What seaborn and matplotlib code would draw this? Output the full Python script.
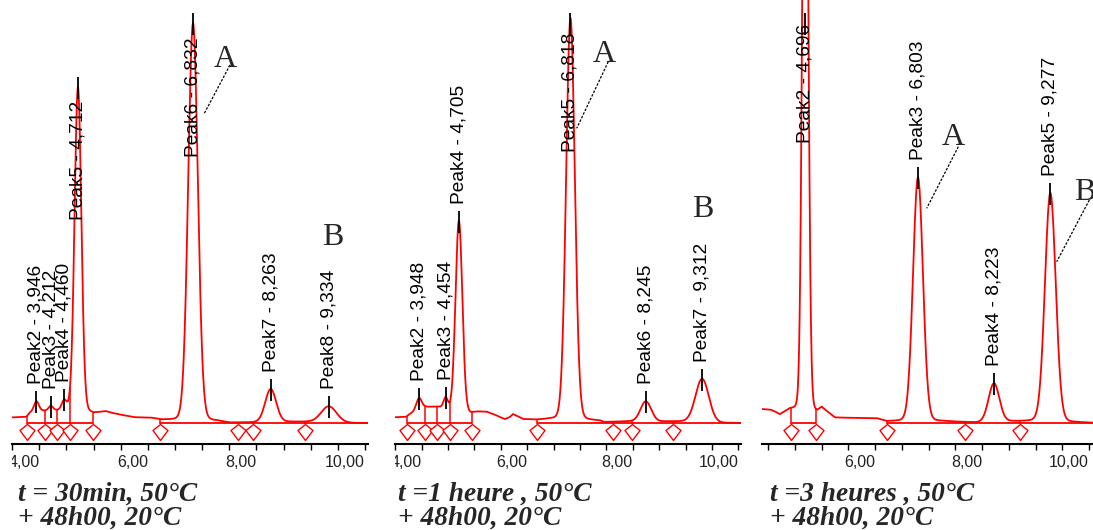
import numpy as np
import pandas as pd
import matplotlib
matplotlib.use("Agg")
import matplotlib.pyplot as plt
import seaborn as sns
from matplotlib.path import Path
from matplotlib.transforms import Bbox, TransformedBbox

sns.set_style("white")
plt.rcParams["font.family"] = ["Liberation Sans", "DejaVu Sans"]

RED = "#ff0000"

# ---------------- run 1 : 30 min at 50 °C, then 48 h at 20 °C
run1_names = ["Peak2", "Peak3", "Peak4", "Peak5", "Peak6", "Peak7", "Peak8"]
run1_rt = [3.946, 4.212, 4.460, 4.712, 6.832, 8.263, 9.334]
run1_height = [9.5, 4.5, 9.5, 324, 398, 33, 16]
run1_sigma = [0.045, 0.04, 0.045, 0.062, 0.088, 0.10, 0.14]
run1_drift_t = [3.50, 3.76, 3.82, 3.95, 4.60, 4.85, 5.00, 5.12, 5.22, 5.32, 5.50,
                5.75, 6.05, 6.25, 6.60, 7.30, 7.50, 8.60, 8.95, 9.80, 10.06]
run1_drift_s = [5.5, 6.0, 10.0, 12.0, 12.5, 11.0, 9.5, 10.5, 11.5, 10.0, 8.0,
                5.5, 5.0, 3.0, 2.0, 1.5, 0.0, 1.2, 1.2, 0.0, 0.0]
run1_marks = [3.768, 4.105, 4.320, 4.566, 4.995, 6.224, 7.667, 7.943, 8.895]
run1_base = [(3.768, 4.995), (6.224, 10.06)]

# ---------------- run 2 : 1 hour at 50 °C, then 48 h at 20 °C
run2_names = ["Peak2", "Peak3", "Peak4", "Peak5", "Peak6", "Peak7"]
run2_rt = [3.948, 4.454, 4.705, 6.818, 8.245, 9.312]
run2_height = [11, 11, 191, 402, 20, 43.5]
run2_sigma = [0.05, 0.04, 0.064, 0.082, 0.10, 0.125]
run2_drift_t = [3.49, 3.70, 3.78, 3.88, 4.00, 4.06, 4.31, 4.45, 4.60, 4.92, 5.04,
                5.23, 5.39, 5.48, 5.58, 5.67, 5.73, 5.80, 5.92, 6.18, 6.43, 7.06,
                7.38, 7.45, 7.90, 8.90, 9.65, 10.05]
run2_drift_s = [5.7, 6.0, 9.0, 12.0, 15.0, 16.0, 16.0, 14.0, 12.0, 9.5, 11.0,
                11.0, 8.0, 5.7, 3.7, 5.7, 8.7, 7.0, 3.7, 3.0, 3.5, 2.5,
                2.0, 0.5, 1.5, 1.5, 0.0, 0.0]
run2_marks = [3.716, 4.063, 4.284, 4.536, 4.947, 6.178, 7.629, 7.977, 8.765]
run2_base = [(3.716, 4.947), (6.178, 10.05)]

# ---------------- run 3 : 3 hours at 50 °C, then 48 h at 20 °C
run3_names = ["Peak2", "Peak3", "Peak4", "Peak5"]
run3_rt = [4.696, 6.803, 8.223, 9.277]
run3_height = [800, 244, 38.5, 229]
run3_sigma = [0.05, 0.092, 0.10, 0.10]
run3_drift_t = [3.88, 4.04, 4.13, 4.22, 4.32, 4.41, 4.55, 4.85, 4.92, 5.00, 5.10,
                5.25, 6.03, 6.22, 7.25, 7.90, 8.50, 8.95, 10.09]
run3_drift_s = [13.7, 13.0, 11.0, 8.0, 11.0, 13.0, 12.0, 10.0, 10.0, 14.5, 11.0,
                5.0, 4.5, 1.5, 1.5, 0.3, 1.5, 1.5, 0.0]
run3_marks = [4.424, 4.892, 6.219, 7.682, 8.710]
run3_base = [(4.424, 4.892), (6.219, 10.09)]

titles = [("t = 30min, 50°C", "+ 48h00, 20°C"),
          ("t =1 heure , 50°C", "+ 48h00, 20°C"),
          ("t =3 heures , 50°C", "+ 48h00, 20°C")]


def trace(t, rt, height, sigma, drift_t, drift_s, eta=0.04):
    s = np.interp(t, drift_t, drift_s)
    for r, h, sg in zip(rt, height, sigma):
        d = (t - r) / sg
        s = s + h * ((1 - eta) * np.exp(-0.5 * d ** 2) + eta / (1 + (d / 1.5) ** 2))
    return s


W, H = 1093, 530
Y_LO, Y_HI = -21, 423
fig = plt.figure(figsize=(W / 100, H / 100), dpi=100)

diamond = Path([(0, 1), (0.94, 0.25), (0, -1), (-0.94, 0.25), (0, 1)],
               [Path.MOVETO, Path.LINETO, Path.LINETO, Path.LINETO, Path.CLOSEPOLY])

panels = [
    dict(px=(12.16, 367.7), xlim=(3.50, 10.05), names=run1_names, rt=run1_rt,
         h=run1_height, sg=run1_sigma, dt=run1_drift_t, ds=run1_drift_s,
         marks=run1_marks, base=run1_base, first_tick=3.5,
         major=[4, 6, 8, 10], label_at=[None, None, None, 203, 266, None, None],
         A=(7.42, 356, (7.513, 358), (7.034, 309)), B=(9.40, 178, None),
         title_x=18),
    dict(px=(395.3, 741.1), xlim=(3.50, 10.05), names=run2_names, rt=run2_rt,
         h=run2_height, sg=run2_sigma, dt=run2_drift_t, ds=run2_drift_s,
         marks=run2_marks, base=run2_base, first_tick=3.5,
         major=[4, 6, 8, 10], label_at=[None, None, None, 271, None, None],
         A=(7.453, 361, (7.534, 361.3), (6.936, 294.7)), B=(9.318, 206, None),
         title_x=398),
    dict(px=(761.6, 1093.3), xlim=(3.88, 10.08), names=run3_names, rt=run3_rt,
         h=run3_height, sg=run3_sigma, dt=run3_drift_t, ds=run3_drift_s,
         marks=run3_marks, base=run3_base, first_tick=4.0,
         major=[6, 8, 10], label_at=[280, None, None, None],
         A=(7.458, 278, (7.557, 276.3), (6.966, 214.7)),
         B=(9.925, 223, ((10.006, 223), (9.396, 161.3))),
         title_x=770),
]

for i, p in enumerate(panels):
    x0, x1 = p["px"]
    ax = fig.add_axes([x0 / W, (H - 444) / H, (x1 - x0) / W, 444 / H])
    ax.set_xlim(*p["xlim"])
    ax.set_ylim(Y_LO, Y_HI)

    t = np.linspace(p["xlim"][0], p["xlim"][1], 2400)
    s = trace(t, p["rt"], p["h"], p["sg"], p["dt"], p["ds"])
    df = pd.DataFrame({"time": t, "signal": s})
    sns.lineplot(data=df, x="time", y="signal", ax=ax, color=RED, lw=1.3,
                 estimator=None, sort=False)

    # integration baselines, drop lines and peak start/end markers
    for a, b in p["base"]:
        ax.hlines(0, a, b, color=RED, lw=1.3)
    m = np.array(p["marks"])
    mv = trace(m, p["rt"], p["h"], p["sg"], p["dt"], p["ds"])
    ax.vlines(m, -1, np.maximum(mv, 0), color=RED, lw=1.1)
    ax.plot(m, np.full(len(m), -9.0), ls="none", marker=diamond, ms=11.5,
            mfc="white", mec=RED, mew=1.0, clip_on=False)

    # peak labels
    apex = trace(np.array(p["rt"]), p["rt"], p["h"], p["sg"], p["dt"], p["ds"])
    for name, r, ap, lab in zip(p["names"], p["rt"], apex, p["label_at"]):
        a = min(ap, 400)
        ax.vlines(r, a - 12, a + 10, color="black", lw=1.3, zorder=4)
        yb = ap + 17 if lab is None else lab
        txt = f"{name} - {r:.3f}".replace(".", ",")
        ax.text(r, yb, txt, rotation=90, ha="center", va="bottom",
                fontsize=13.8, color="black", zorder=5)

    # A / B annotations
    xa, ya, (l0, l1) = p["A"][0], p["A"][1], (p["A"][2], p["A"][3])
    ax.text(xa, ya, "A", family="Liberation Serif", fontsize=23,
            ha="center", va="baseline", clip_on=False)
    ax.plot([l0[0], l1[0]], [l0[1], l1[1]], color="black", lw=0.9,
            ls=(0, (2, 1.2)))
    xb, yb, bl = p["B"]
    ax.text(xb, yb, "B", family="Liberation Serif", fontsize=23,
            ha="center", va="baseline", clip_on=False)
    if bl is not None:
        ax.plot([bl[0][0], bl[1][0]], [bl[0][1], bl[1][1]], color="black",
                lw=0.9, ls=(0, (2, 1.2)), clip_on=False)

    # time axis
    for side in ("top", "left", "right"):
        ax.spines[side].set_visible(False)
    ax.spines["bottom"].set_linewidth(1.5)
    ax.spines["bottom"].set_color("black")
    ax.set_yticks([])
    ax.set_ylabel("")
    ax.set_xlabel("")
    ticks = np.arange(p["first_tick"], 10.01, 0.5)
    labels = [f"{v:.2f}".replace(".", ",") if v in p["major"] else "" for v in ticks]
    ax.set_xticks(ticks, labels)
    ax.tick_params(axis="x", direction="out", length=4.3, width=1.0, pad=3.6,
                   labelsize=11.5, labelcolor="#222222", color="black", bottom=True)
    clip = TransformedBbox(Bbox([[x0 / W, 0], [x1 / W, 1]]), fig.transFigure)
    for lab in ax.get_xticklabels():
        lab.set_ha("right")
        lab.set_clip_box(clip)
        lab.set_clip_on(True)

    l1_txt, l2_txt = titles[i]
    fig.text(p["title_x"] / W, (H - 500.5) / H, l1_txt, family="Liberation Serif",
             fontsize=19.7, fontweight="bold", style="italic", va="baseline")
    fig.text(p["title_x"] / W, (H - 524.5) / H, l2_txt, family="Liberation Serif",
             fontsize=19.7, fontweight="bold", style="italic", va="baseline")

fig.savefig("out.png", dpi=100, facecolor="white")
